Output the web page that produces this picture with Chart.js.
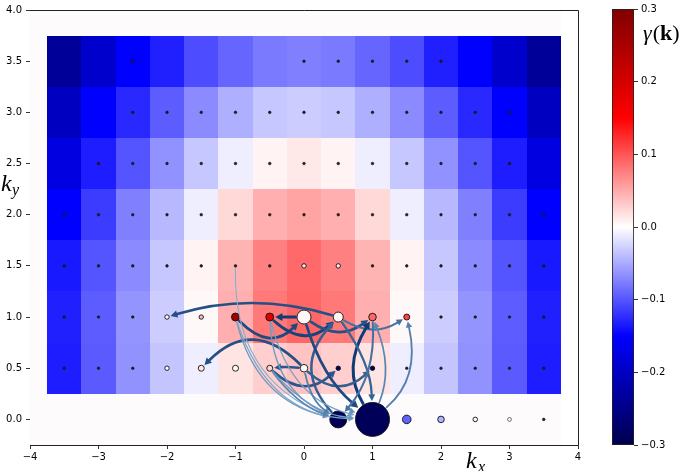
<!DOCTYPE html>
<html><head><meta charset="utf-8">
<script src="https://cdn.jsdelivr.net/npm/chart.js@4/dist/chart.umd.min.js"></script>
<style>
html,body{margin:0;padding:0;background:#fff;width:685px;height:471px;overflow:hidden}
#wrap{position:relative;width:685px;height:471px}
#main{position:absolute;left:0;top:0;width:685px;height:471px}
#cbar{position:absolute;left:600px;top:0;width:85px;height:471px}
</style></head><body>
<div id="wrap"><canvas id="main" width="685" height="471"></canvas><canvas id="cbar" width="85" height="471"></canvas></div>
<script>
// ---------------- DATA ----------------
const kxCenters = [-3.5,-3,-2.5,-2,-1.5,-1,-0.5,0,0.5,1,1.5,2,2.5,3,3.5];
const kyCenters = [0.5,1,1.5,2,2.5,3,3.5];
// gamma(k) per row (ky = 0.5 ... 3.5), columns kx = -3.5 ... 3.5
const gammaKy05 = [-0.133,-0.097,-0.064,-0.035,-0.010,0.016,0.029,0.035,0.029,0.016,-0.010,-0.035,-0.064,-0.097,-0.133];
const gammaKy10 = [-0.131,-0.096,-0.063,-0.030,0.004,0.047,0.079,0.090,0.079,0.047,0.004,-0.030,-0.063,-0.096,-0.131];
const gammaKy15 = [-0.135,-0.100,-0.068,-0.033,0.007,0.044,0.075,0.088,0.075,0.044,0.007,-0.033,-0.068,-0.100,-0.135];
const gammaKy20 = [-0.150,-0.115,-0.075,-0.042,-0.010,0.023,0.047,0.054,0.047,0.023,-0.010,-0.042,-0.075,-0.115,-0.150];
const gammaKy25 = [-0.176,-0.133,-0.100,-0.065,-0.033,-0.010,0.007,0.0135,0.007,-0.010,-0.033,-0.065,-0.100,-0.133,-0.176];
const gammaKy30 = [-0.203,-0.150,-0.126,-0.096,-0.068,-0.047,-0.033,-0.030,-0.033,-0.047,-0.068,-0.096,-0.126,-0.150,-0.203];
const gammaKy35 = [-0.236,-0.193,-0.150,-0.131,-0.105,-0.090,-0.078,-0.075,-0.078,-0.090,-0.105,-0.131,-0.150,-0.193,-0.236];
const gammaRows = [gammaKy05,gammaKy10,gammaKy15,gammaKy20,gammaKy25,gammaKy30,gammaKy35];

// grid points present in each row
const dotsKy00 = [0.5,1,1.5,2,2.5,3,3.5];
const dotsKy05 = [-3.5,-3,-2.5,-2,-1.5,-1,-0.5,0,0.5,1,1.5,2,2.5,3,3.5];
const dotsKy10 = [-3.5,-3,-2.5,-2,-1.5,-1,-0.5,0,0.5,1,1.5,2,2.5,3,3.5];
const dotsKy15 = [-3.5,-3,-2.5,-2,-1.5,-1,-0.5,0,0.5,1,1.5,2,2.5,3,3.5];
const dotsKy20 = [-3.5,-3,-2.5,-2,-1.5,-1,-0.5,0,0.5,1,1.5,2,2.5,3,3.5];
const dotsKy25 = [-3,-2.5,-2,-1.5,-1,-0.5,0,0.5,1,1.5,2,2.5,3];
const dotsKy30 = [-2.5,-2,-1.5,-1,-0.5,0,0.5,1,1.5,2,2.5,3];
const dotsKy35 = [-2.5,0,0.5,1,1.5,2];
const dotRows = [[0,dotsKy00],[0.5,dotsKy05],[1,dotsKy10],[1.5,dotsKy15],[2,dotsKy20],[2.5,dotsKy25],[3,dotsKy30],[3.5,dotsKy35]];

// highlighted occupation markers: position, radius (px), colour value
const markKx    = [-2,-1.5,-1,-0.5,0,0.5,1,1.5, -2,-1.5,-1,-0.5,0,0.5,1, 0,0.5, 0.5,1,1.5,2,2.5,3];
const markKy    = [1,1,1,1,1,1,1,1, 0.5,0.5,0.5,0.5,0.5,0.5,0.5, 1.5,1.5, 0,0,0,0,0,0];
const markSize  = [2.2,2.2,4,4,7,5,3.8,3, 2.2,3,3,3,3.8,2.2,2.2, 2.2,2.2, 8.5,17,4.3,3.3,2.3,1.9];
const markGamma = [0.0,0.04,0.26,0.19,0.005,0.005,0.09,0.11, 0.0,0.015,0.003,0.025,0.003,-0.27,-0.27, 0.01,0.01, -0.29,-0.29,-0.093,-0.045,0.005,0.0];

// scattering arrows: from (x,y) to (x,y), curvature, strength
const arrowFromX = [0.5,0,0,0,-1,-0.5,0,0.5,1,1,0.5,-0.5,0,-1,-1,-1,-0.5,-0.5,-0.5,-0.5,0,0,0.5,0.5,1,1];
const arrowFromY = [1,0.5,0.5,1,1,1,1,1,0,0,0,0.5,0.5,1.5,1,1,1,1,0.5,0.5,0.5,1,1,0,0,1];
const arrowToX   = [-2,-1.5,-0.5,-0.5,0,0.5,1,1.5,1,1,0.5,0.5,1,0.5,0.5,1,0.5,1,0.5,1,0.5,1,1,1,1.5,0.5];
const arrowToY   = [1,0.5,0.5,1,1,1,1,1,1,1,1,0.5,0.5,0,0,0,0,0,0,0,0,0,0,0,1,0];
const arrowRad   = [-0.15,-0.5,-0.05,0,-0.5,-0.45,-0.35,-0.3,0.3,-0.2,0.45,-0.45,-0.45,-0.35,-0.3,-0.35,-0.3,-0.3,-0.15,-0.2,-0.2,-0.15,0.15,0.2,-0.3,0.2];
const arrowStrength = [0.85,0.85,0.8,1,0.9,0.95,0.85,0.6,1,0.45,0.75,0.8,0.75,0.15,0.3,0.2,0.3,0.25,0.45,0.3,0.5,0.9,0.7,0.35,0.5,0.6];

// axis ticks
const xTickValues = [-4,-3,-2,-1,0,1,2,3,4];
const xTickLabels = ['\u22124','\u22123','\u22122','\u22121','0','1','2','3','4'];
const yTickValues = [0,0.5,1,1.5,2,2.5,3,3.5,4];
const yTickLabels = ['0.0','0.5','1.0','1.5','2.0','2.5','3.0','3.5','4.0'];
const cbTickValues = [-0.3,-0.2,-0.1,0,0.1,0.2,0.3];
const cbTickLabels = ['\u22120.3','\u22120.2','\u22120.1','0.0','0.1','0.2','0.3'];

// ---------------- helpers ----------------
const VMIN = -0.3, VMAX = 0.3;
function seismic(v){
  let t = (v - VMIN)/(VMAX - VMIN); t = Math.max(0, Math.min(1, t));
  const stops = [[0,0,0,0.3],[0.25,0,0,1],[0.5,1,1,1],[0.75,1,0,0],[1,0.5,0,0]];
  for (let i=0;i<stops.length-1;i++){
    const a=stops[i], b=stops[i+1];
    if (t<=b[0]){
      const f=(t-a[0])/(b[0]-a[0]);
      const r=a[1]+(b[1]-a[1])*f, g=a[2]+(b[2]-a[2])*f, bl=a[3]+(b[3]-a[3])*f;
      return 'rgb('+Math.round(r*255)+','+Math.round(g*255)+','+Math.round(bl*255)+')';
    }
  }
  return 'rgb(128,0,0)';
}

// build point dataset
const pts = [], ptR = [], ptFill = [];
dotRows.forEach(([ky, xs]) => xs.forEach(kx => {
  let idx = -1;
  for (let i=0;i<markKx.length;i++) if (markKx[i]===kx && markKy[i]===ky) idx=i;
  pts.push({x:kx, y:ky});
  if (idx>=0){ ptR.push(markSize[idx]); ptFill.push(seismic(markGamma[idx])); }
  else { ptR.push(1.3); ptFill.push('#222'); }
}));
function radiusAt(x,y){
  for (let i=0;i<pts.length;i++) if (pts[i].x===x && pts[i].y===y) return ptR[i];
  return 1.5;
}

const heatmapPlugin = {
  id:'heatmap',
  beforeDatasetsDraw(chart){
    const {ctx, scales:{x, y}} = chart;
    ctx.save();
    // faint background of the image extent
    ctx.fillStyle = '#fefbfd';
    const bx0 = x.getPixelForValue(-4), bx1 = x.getPixelForValue(3.75);
    const by0 = y.getPixelForValue(4), by1 = y.getPixelForValue(-0.25);
    ctx.fillRect(bx0, by0, bx1-bx0, by1-by0);
    gammaRows.forEach((row, i) => {
      const ky = kyCenters[i];
      row.forEach((v, j) => {
        const kx = kxCenters[j];
        const l = Math.round(x.getPixelForValue(kx-0.25)), r = Math.round(x.getPixelForValue(kx+0.25));
        const t = Math.round(y.getPixelForValue(ky+0.25)), b = Math.round(y.getPixelForValue(ky-0.25));
        ctx.fillStyle = seismic(v);
        ctx.fillRect(l, t, r-l, b-t);
      });
    });
    ctx.restore();
  },
  afterDatasetsDraw(chart){
    const {ctx, chartArea:ca, scales:{x, y}} = chart;
    ctx.save();
    ctx.beginPath(); ctx.rect(ca.left, ca.top, ca.right-ca.left, ca.bottom-ca.top); ctx.clip();
    const light=[150,195,226], dark=[16,60,118];
    for (let i=0;i<arrowFromX.length;i++){
      const s = arrowStrength[i];
      const col = 'rgb('+light.map((c,k)=>Math.round(c+(dark[k]-c)*s)).join(',')+')';
      const w = 0.7 + 2.3*s;
      const p0 = {x:x.getPixelForValue(arrowFromX[i]), y:y.getPixelForValue(arrowFromY[i])};
      const p1 = {x:x.getPixelForValue(arrowToX[i]), y:y.getPixelForValue(arrowToY[i])};
      const dx=p1.x-p0.x, dy=p1.y-p0.y;
      const c = {x:(p0.x+p1.x)/2 + arrowRad[i]*dy, y:(p0.y+p1.y)/2 - arrowRad[i]*dx};
      const sA = radiusAt(arrowFromX[i],arrowFromY[i]) + 1.5, sB = radiusAt(arrowToX[i],arrowToY[i]) + 1.5;
      let ux=c.x-p0.x, uy=c.y-p0.y, L=Math.hypot(ux,uy)||1; ux/=L; uy/=L;
      const a = {x:p0.x+ux*sA, y:p0.y+uy*sA};
      let vx=p1.x-c.x, vy=p1.y-c.y, M=Math.hypot(vx,vy)||1; vx/=M; vy/=M;
      const tip = {x:p1.x-vx*sB, y:p1.y-vy*sB};
      const hl = 5 + 2.2*s, hw = 2.4 + 1.6*s;
      const base = {x:tip.x-vx*hl, y:tip.y-vy*hl};
      ctx.strokeStyle = col; ctx.fillStyle = col; ctx.lineWidth = w; ctx.lineCap='round';
      ctx.beginPath(); ctx.moveTo(a.x,a.y); ctx.quadraticCurveTo(c.x,c.y,base.x,base.y); ctx.stroke();
      ctx.beginPath();
      ctx.moveTo(tip.x,tip.y);
      ctx.lineTo(base.x - vy*hw, base.y + vx*hw);
      ctx.lineTo(base.x + vy*hw, base.y - vx*hw);
      ctx.closePath(); ctx.fill();
    }
    ctx.restore();
  },
  afterDraw(chart){
    const {ctx, chartArea:ca} = chart;
    ctx.save();
    ctx.strokeStyle='#222'; ctx.lineWidth=1;
    ctx.beginPath();
    ctx.moveTo(ca.left, ca.top+0.5); ctx.lineTo(ca.right+0.5, ca.top+0.5); ctx.lineTo(ca.right+0.5, ca.bottom);
    ctx.stroke();
    // axis labels
    ctx.fillStyle='#000';
    ctx.font='italic 24px "Liberation Serif"';
    ctx.fillText('k', 1, 191);
    ctx.font='italic 16px "Liberation Serif"';
    ctx.fillText('y', 12, 195);
    ctx.font='italic 24px "Liberation Serif"';
    ctx.fillText('k', 466, 468);
    ctx.font='italic 16px "Liberation Serif"';
    ctx.fillText('x', 478, 472);
    ctx.restore();
  }
};

const axisFont = {family:'DejaVu Sans', size:10};
new Chart(document.getElementById('main'), {
  type:'scatter',
  data:{datasets:[{
    data: pts,
    pointRadius: c => ptR[c.dataIndex],
    pointBackgroundColor: c => ptFill[c.dataIndex],
    pointBorderColor: '#111',
    pointBorderWidth: c => ptR[c.dataIndex] > 2 ? 0.9 : 0.6,
    pointHoverRadius: c => ptR[c.dataIndex],
    clip: false
  }]},
  options:{
    responsive:false, animation:false, events:[],
    layout:{autoPadding:false, padding:{left:0,right:107,top:4,bottom:0}},
    plugins:{legend:{display:false}, tooltip:{enabled:false}},
    scales:{
      x:{type:'linear', min:-4, max:4,
        afterBuildTicks:s=>{s.ticks = xTickValues.map(v=>({value:v}));},
        afterFit:s=>{s.height=26;},
        ticks:{callback:(v,i)=>xTickLabels[i], color:'#000', font:axisFont, padding:2, maxRotation:0, autoSkip:false},
        grid:{display:true, drawOnChartArea:false, drawTicks:true, tickLength:4, color:'#000', lineWidth:0.8},
        border:{display:true, color:'#222', width:1}},
      y:{type:'linear', min:-0.25, max:4,
        afterBuildTicks:s=>{s.ticks = yTickValues.map(v=>({value:v}));},
        afterFit:s=>{s.width=30;},
        ticks:{callback:(v,i)=>yTickLabels[i], color:'#000', font:axisFont, padding:4, autoSkip:false},
        grid:{display:true, drawOnChartArea:false, drawTicks:true, tickLength:4, color:'#000', lineWidth:0.8},
        border:{display:true, color:'#222', width:1}}
    }
  },
  plugins:[heatmapPlugin]
});

// ---------------- colour bar ----------------
const cbarPlugin = {
  id:'cbar',
  beforeDatasetsDraw(chart){
    const {ctx, chartArea:ca, scales:{y}} = chart;
    ctx.save();
    for (let py=Math.floor(ca.top); py<Math.ceil(ca.bottom); py++){
      ctx.fillStyle = seismic(y.getValueForPixel(py+0.5));
      ctx.fillRect(ca.left, py, ca.right-ca.left, 1);
    }
    ctx.strokeStyle='#222'; ctx.lineWidth=0.8;
    ctx.strokeRect(ca.left+0.5, ca.top+0.5, ca.right-ca.left-1, ca.bottom-ca.top-1);
    ctx.fillStyle='#000';
    let xx = 43;
    ctx.font='italic 22px "Liberation Serif"'; ctx.fillText('\u03b3', xx, 40); xx += ctx.measureText('\u03b3').width + 1;
    ctx.font='22px "Liberation Serif"'; ctx.fillText('(', xx, 40); xx += ctx.measureText('(').width;
    ctx.font='bold 22px "Liberation Serif"'; ctx.fillText('k', xx, 40); xx += ctx.measureText('k').width;
    ctx.font='22px "Liberation Serif"'; ctx.fillText(')', xx, 40);
    ctx.restore();
  }
};
new Chart(document.getElementById('cbar'), {
  type:'scatter',
  data:{datasets:[{data:[]}]},
  options:{
    responsive:false, animation:false, events:[],
    layout:{autoPadding:false, padding:{left:12,right:0,top:4,bottom:26}},
    plugins:{legend:{display:false}, tooltip:{enabled:false}},
    scales:{
      x:{display:false, min:0, max:1},
      y:{type:'linear', position:'right', min:VMIN, max:VMAX,
        afterBuildTicks:s=>{s.ticks = cbTickValues.map(v=>({value:v}));},
        afterFit:s=>{s.width=51;},
        ticks:{callback:(v,i)=>cbTickLabels[i], color:'#000', font:axisFont, padding:3, autoSkip:false},
        grid:{display:true, drawOnChartArea:false, drawTicks:true, tickLength:4, color:'#000', lineWidth:0.8},
        border:{display:false}}
    }
  },
  plugins:[cbarPlugin]
});
</script>
</body></html>
